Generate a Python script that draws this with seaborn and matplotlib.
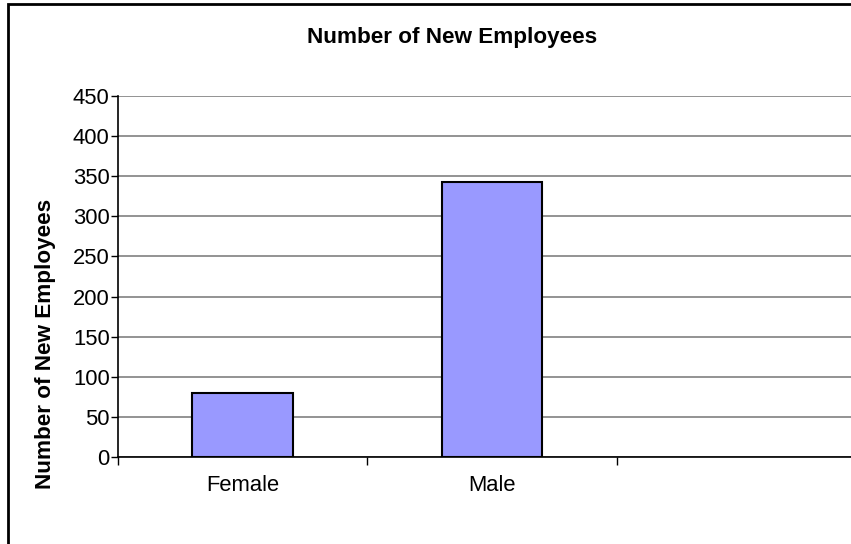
import matplotlib
matplotlib.use("Agg")
import matplotlib.pyplot as plt
import seaborn as sns
import pandas as pd
from matplotlib.patches import Rectangle
from matplotlib.ticker import FixedLocator, NullFormatter

categories = ["Female", "Male", ""]
values = [80, 343, None]
yticks = [0, 50, 100, 150, 200, 250, 300, 350, 400, 450]
title = "Number of New Employees"
ylabel = "Number of New Employees"

sns.set_theme(style="white")
plt.rcParams['font.family'] = ['Liberation Sans', 'DejaVu Sans']
plt.rcParams['text.color'] = 'black'
plt.rcParams['xtick.color'] = 'black'
plt.rcParams['ytick.color'] = 'black'
plt.rcParams['axes.labelcolor'] = 'black'

W, H = 851, 544
fig = plt.figure(figsize=(W / 100, H / 100), dpi=100)
fig.patch.set_facecolor("white")

# outer chart border (extends beyond the cropped image)
border = Rectangle((8 / W, -0.2), 1.2, 1 - 4 / H + 0.2, transform=fig.transFigure,
                   fill=False, edgecolor="black", linewidth=2.0, clip_on=False)
fig.patches.append(border)

x0, x1 = 118, 866
y0, y1 = 457, 96
ax = fig.add_axes([x0 / W, 1 - y0 / H, (x1 - x0) / W, (y0 - y1) / H])

df = pd.DataFrame({"cat": categories[:2], "val": values[:2]})
sns.barplot(data=df, x="cat", y="val", order=categories, color="#9999FF",
            saturation=1, width=0.405, edgecolor="black", linewidth=1.5, ax=ax,
            zorder=3)

ax.set_xlim(-0.5, 2.5)
ax.set_ylim(0, 450)
ax.set_yticks(yticks)
ax.yaxis.grid(True, color="#808080", linewidth=1.2, zorder=0)
ax.set_axisbelow(True)

# Excel-like ticks: major ticks at category boundaries, labels at centers
ax.xaxis.set_major_locator(FixedLocator([-0.5, 0.5, 1.5, 2.5]))
ax.xaxis.set_major_formatter(NullFormatter())
ax.xaxis.set_minor_locator(FixedLocator([0, 1, 2]))
ax.set_xticklabels(categories, minor=True)
ax.tick_params(axis="x", which="major", length=6, width=1, color="black",
               direction="out", bottom=True)
ax.tick_params(axis="x", which="minor", length=0, pad=13, labelsize=15.8,
               labelcolor="black")
ax.tick_params(axis="y", length=5, width=1, color="black", direction="out",
               left=True, labelsize=15.8, pad=1, labelcolor="black")

for s in ["top", "right"]:
    ax.spines[s].set_visible(False)
for s in ["left", "bottom"]:
    ax.spines[s].set_color("black")
    ax.spines[s].set_linewidth(1.2)

ax.set_xlabel("")
ax.set_ylabel("")

fig.text(46 / W, 1 - 344 / H, ylabel, ha="center", va="center", rotation=90,
         fontsize=16.2, fontweight="bold", color="black")
fig.text(452 / W, 1 - 38 / H, title, ha="center", va="center",
         fontsize=16.2, fontweight="bold", color="black")

fig.savefig("out.png", dpi=100)
